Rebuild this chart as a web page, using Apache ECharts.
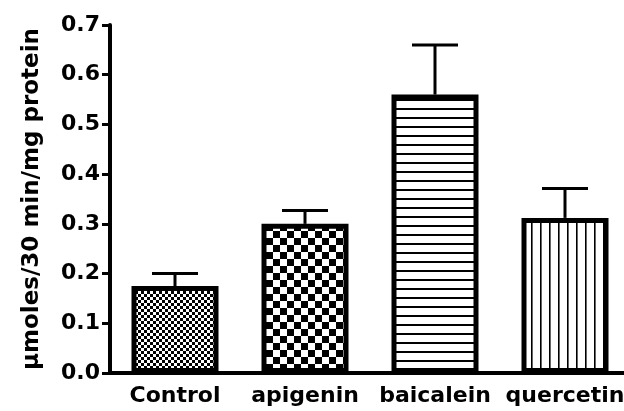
<!DOCTYPE html>
<html>
<head>
<meta charset="utf-8">
<script src="https://cdn.jsdelivr.net/npm/echarts@6/dist/echarts.min.js"></script>
<style>
  html, body { margin: 0; padding: 0; background: #fff; }
  #chart { width: 624px; height: 411px; }
</style>
</head>
<body>
<div id="chart"></div>
<script>
var categories = ['Control', 'apigenin', 'baicalein', 'quercetin'];
var means = [0.175, 0.300, 0.560, 0.312];
var errTop = [0.200, 0.327, 0.660, 0.371];
var yTicks = { min: 0, max: 0.7, step: 0.1 };

// fill patterns drawn on small canvases
function makePattern(w, h, draw) {
  var c = document.createElement('canvas');
  c.width = w;
  c.height = h;
  var ctx = c.getContext('2d');
  ctx.fillStyle = '#fff';
  ctx.fillRect(0, 0, w, h);
  ctx.fillStyle = '#000';
  draw(ctx);
  return { image: c, repeat: 'repeat' };
}
var fineChecker = makePattern(6, 6, function (ctx) {
  ctx.fillRect(0, 0, 3, 3);
  ctx.fillRect(3, 3, 3, 3);
});
var bigChecker = makePattern(14, 14, function (ctx) {
  ctx.fillRect(0, 0, 7, 7);
  ctx.fillRect(7, 7, 7, 7);
});
var hLines = makePattern(9, 9, function (ctx) {
  ctx.fillRect(0, 0, 9, 2);
});
var vLines = makePattern(9, 9, function (ctx) {
  ctx.fillRect(0, 0, 1.6, 9);
});
var fills = [fineChecker, bigChecker, hLines, vLines];

var font = 'DejaVu Sans';
var chart = echarts.init(document.getElementById('chart'));

var option = {
  animation: false,
  backgroundColor: '#fff',
  grid: { left: 110, width: 520, top: 25, bottom: 38, outerBoundsMode: 'none', containLabel: false },
  xAxis: {
    type: 'category',
    data: categories,
    axisLine: { lineStyle: { color: '#000', width: 4 } },
    axisTick: { alignWithLabel: true, length: 10, lineStyle: { color: '#000', width: 3 } },
    axisLabel: { interval: 0, color: '#000', fontFamily: font, fontWeight: 'bold', fontSize: 22, margin: 12 }
  },
  yAxis: {
    type: 'value',
    min: yTicks.min,
    max: yTicks.max,
    interval: yTicks.step,
    name: '\u00b5moles/30 min/mg protein',
    nameLocation: 'middle',
    nameRotate: 90,
    nameGap: 66,
    nameTextStyle: { color: '#000', fontFamily: font, fontWeight: 'bold', fontSize: 23 },
    splitLine: { show: false },
    axisLine: { show: true, lineStyle: { color: '#000', width: 4 } },
    axisTick: { show: true, length: 8, lineStyle: { color: '#000', width: 3 } },
    axisLabel: {
      color: '#000', fontFamily: font, fontWeight: 'bold', fontSize: 22, margin: 10,
      formatter: function (v) { return v.toFixed(1); }
    }
  },
  series: [
    {
      type: 'bar',
      barWidth: 87,
      data: means.map(function (v, i) {
        return { value: v, itemStyle: { color: fills[i], borderColor: '#000', borderWidth: 5 } };
      })
    },
    {
      type: 'custom',
      z: 1,
      data: means.map(function (v, i) { return [i, v, errTop[i]]; }),
      renderItem: function (params, api) {
        var top = api.coord([api.value(0), api.value(1)]);
        var hi = api.coord([api.value(0), api.value(2)]);
        var hw = 23;
        var st = { stroke: '#000', lineWidth: 3 };
        return {
          type: 'group',
          children: [
            { type: 'line', shape: { x1: top[0], y1: top[1], x2: hi[0], y2: hi[1] }, style: st },
            { type: 'line', shape: { x1: hi[0] - hw, y1: hi[1], x2: hi[0] + hw, y2: hi[1] }, style: st }
          ]
        };
      }
    }
  ]
};
chart.setOption(option);
</script>
</body>
</html>
